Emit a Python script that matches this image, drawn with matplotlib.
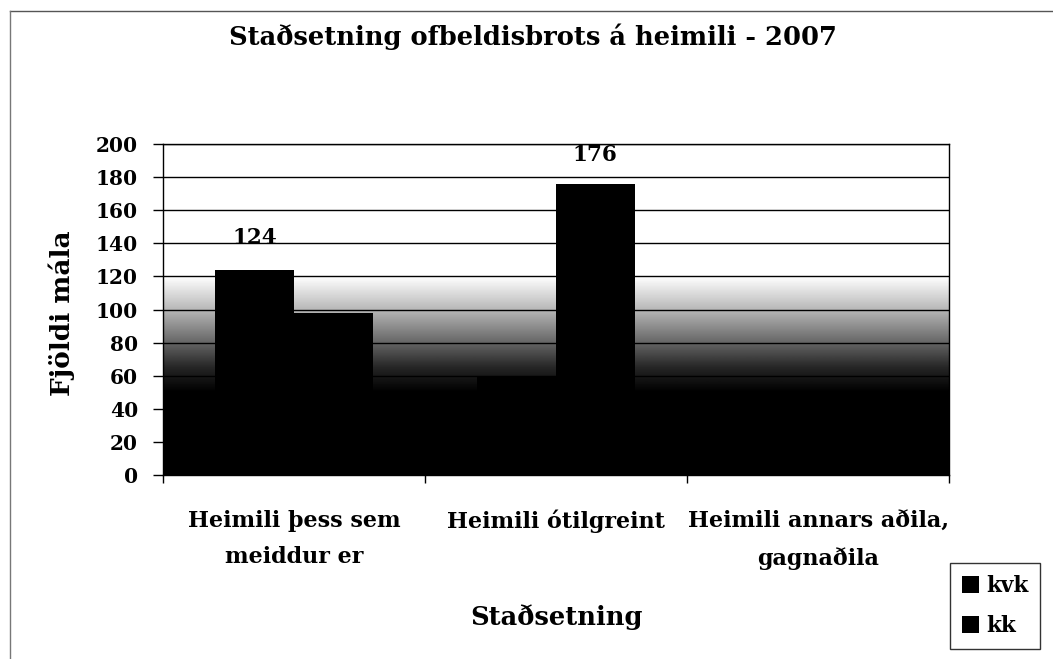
import numpy as np
import matplotlib.pyplot as plt
from matplotlib.colors import LinearSegmentedColormap
from matplotlib.lines import Line2D

plt.rcParams['font.family'] = ['DejaVu Serif', 'Liberation Serif']
plt.rcParams['font.weight'] = 'bold'

# --- Data ---
categories = ["Heimili þess sem\nmeiddur er", "Heimili ótilgreint",
              "Heimili annars aðila,\ngagnaðila"]
kvk = [124, 60, 45]
kk = [98, 176, 35]
shown_kvk = ["124", "", ""]
shown_kk = ["", "176", ""]
yticks = [0, 20, 40, 60, 80, 100, 120, 140, 160, 180, 200]

# --- Figure ---
fig = plt.figure(figsize=(10.53, 6.59), dpi=100)
ax = fig.add_axes([163 / 1053, 1 - 475 / 659, 786 / 1053, 331 / 659])

# gradient fill of the plot area (dark at bottom, white at top)
yy = np.linspace(0, 200, 400)
shade = np.interp(yy, [0, 50, 65, 80, 100, 120, 200], [0, 0, 0.15, 0.4, 0.72, 1, 1])
grad = shade[:, None]
cmap = LinearSegmentedColormap.from_list("g", ["black", "white"])
ax.imshow(grad, extent=[-0.5, 2.5, 0, 200], origin="lower", aspect="auto",
          cmap=cmap, vmin=0, vmax=1, zorder=0, interpolation="bilinear")

x = np.arange(len(categories))
w = 0.3
b1 = ax.bar(x - w / 2, kvk, w, color="black", label="kvk", zorder=2)
b2 = ax.bar(x + w / 2, kk, w, color="black", label="kk", zorder=2)
ax.bar_label(b1, labels=shown_kvk, padding=15, fontsize=15.5, fontweight="bold")
ax.bar_label(b2, labels=shown_kk, padding=13, fontsize=15.5, fontweight="bold")

ax.set_xlim(-0.5, 2.5)
ax.set_ylim(0, 200)
ax.set_yticks(yticks)
ax.yaxis.grid(True, color="black", linewidth=1)
ax.set_axisbelow(False)
for gl in ax.get_ygridlines():
    gl.set_zorder(1)

ax.set_xticks(x)
ax.set_xticklabels(categories, fontsize=16, fontweight="bold", linespacing=1.85)
ax.set_xticks([-0.5, 0.5, 1.5, 2.5], minor=True)
ax.tick_params(axis="x", which="major", length=0, pad=25)
ax.tick_params(axis="x", which="minor", length=6, width=1, direction="out")
ax.tick_params(axis="y", length=7, width=1, labelsize=14.5, pad=11)
for t in ax.get_yticklabels():
    t.set_fontweight("bold")

for s in ax.spines.values():
    s.set_linewidth(1)
    s.set_zorder(3)

ax.set_ylabel("Fjöldi mála", fontsize=19, fontweight="bold", va="center")
ax.yaxis.set_label_coords((62 - 163) / 786, 0.49)
ax.set_xlabel("Staðsetning", fontsize=18.5, fontweight="bold", va="center")
ax.xaxis.set_label_coords((557 - 163) / 786, (475 - 617) / 331)
fig.text(533 / 1053, 1 - 37 / 659, "Staðsetning ofbeldisbrots á heimili - 2007",
         ha="center", va="center", fontsize=18.5, fontweight="bold")

fig.legend(loc="lower right", bbox_to_anchor=(1040 / 1053, 1 - 649 / 659),
           fontsize=15.5, frameon=True, fancybox=False, edgecolor="black",
           handlelength=0.8, handleheight=0.8, handletextpad=0.3,
           borderpad=0.55, labelspacing=0.85, borderaxespad=0)

# outer chart frame (only top and left edges show in the scan)
fig.add_artist(Line2D([10 / 1053, 1], [1 - 11 / 659, 1 - 11 / 659],
                      transform=fig.transFigure, color="#555555", linewidth=1))
fig.add_artist(Line2D([10 / 1053, 10 / 1053], [0, 1 - 11 / 659],
                      transform=fig.transFigure, color="#777777", linewidth=1))

fig.savefig("out.png", dpi=100)
